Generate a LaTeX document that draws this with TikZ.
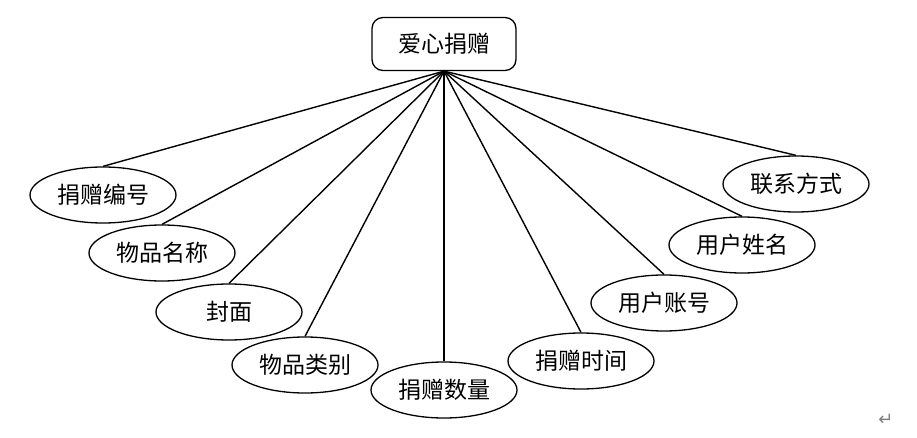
\documentclass[tikz,border=0pt]{standalone}
\usepackage{fontspec}
\newfontfamily\cjk{Noto Sans CJK SC}
\newfontfamily\sym{DejaVu Sans}
\usetikzlibrary{shapes.geometric}
\tikzset{
  attr/.style={ellipse, draw, line width=1.3pt, minimum width=146pt, minimum height=56pt, inner sep=0pt, font=\cjk\fontsize{23}{23}\selectfont},
  entity/.style={rectangle, rounded corners=11pt, draw, line width=1.3pt, minimum width=144pt, minimum height=53pt, inner sep=0pt, font=\cjk\fontsize{23}{23}\selectfont},
  link/.style={line width=1.4pt}
}
\begin{document}
\begin{tikzpicture}[x=1pt,y=-1pt]
\useasboundingbox[fill=white] (0,0) rectangle (917,438);
\node[entity] (root) at (444,44) {爱心捐赠};
\node[attr] (a1) at (103,195) {捐赠编号};
\node[attr] (a2) at (162,253) {物品名称};
\node[attr] (a3) at (229,312) {封面};
\node[attr] (a4) at (305,365) {物品类别};
\node[attr] (a5) at (444,390) {捐赠数量};
\node[attr] (a6) at (581,361) {捐赠时间};
\node[attr] (a7) at (664,303) {用户账号};
\node[attr] (a8) at (742,245) {用户姓名};
\node[attr] (a9) at (796,184) {联系方式};
\foreach \n in {a1,a2,a3,a4,a5,a6,a7,a8,a9}
  \draw[link] (root.south) -- (\n.north);
\node[text=gray, font=\sym\fontsize{18}{18}\selectfont] (ret) at (886,420) {↵};
\end{tikzpicture}
\end{document}
